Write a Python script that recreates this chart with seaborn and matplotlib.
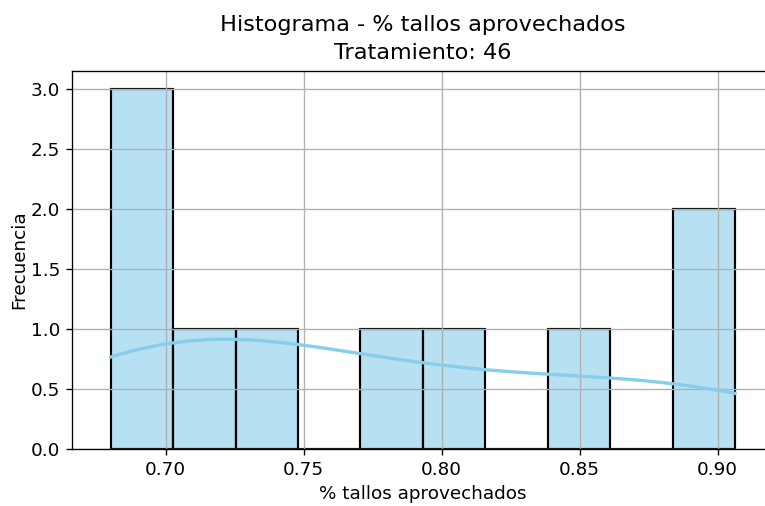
import matplotlib
matplotlib.use("Agg")
import matplotlib.pyplot as plt
import seaborn as sns
import pandas as pd

# Proportion of stems used, treatment 46
tratamiento = 46
tallos_aprovechados = [0.6801, 0.690, 0.700, 0.715, 0.740, 0.780, 0.800, 0.850, 0.890, 0.9063]

df = pd.DataFrame({"% tallos aprovechados": tallos_aprovechados})

plt.rcParams["font.size"] = 11
fig = plt.figure(figsize=(765 / 120, 506 / 120), dpi=120)
ax = fig.add_axes([72 / 765, 1 - 449 / 506, 701.6 / 765, (449 - 71) / 506])

sns.histplot(data=df, x="% tallos aprovechados", bins=10, kde=True,
             color="skyblue", edgecolor="black", linewidth=1.3, alpha=0.6, ax=ax)
for line in ax.lines:
    line.set_color("skyblue")
    line.set_linewidth(2)

ax.set_xlim(0.6661, 0.9203)
ax.set_xticks([0.70, 0.75, 0.80, 0.85, 0.90])
ax.set_xticklabels(["0.70", "0.75", "0.80", "0.85", "0.90"])
ax.grid(True)
ax.set_xlabel("% tallos aprovechados")
ax.set_ylabel("Frecuencia", labelpad=1.5)
ax.set_title(f"Histograma - % tallos aprovechados\nTratamiento: {tratamiento}",
             fontsize=13.4, linespacing=1.5, pad=7.2)

fig.savefig("out.png", dpi=120)
